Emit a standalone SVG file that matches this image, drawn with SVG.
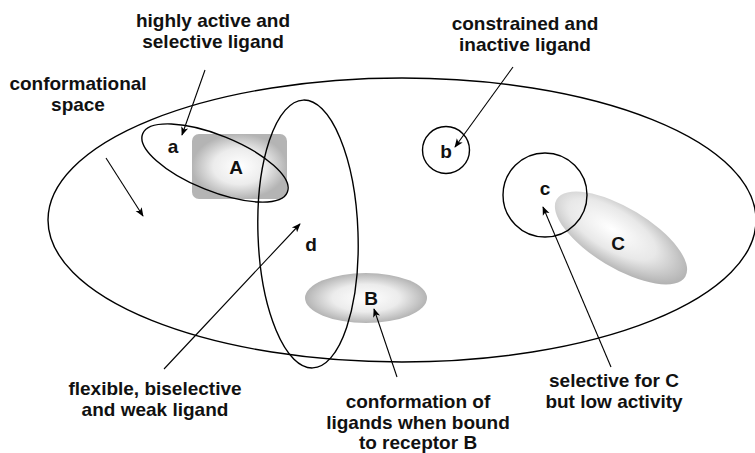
<svg xmlns="http://www.w3.org/2000/svg" width="755" height="453" viewBox="0 0 755 453">
<defs>
<radialGradient id="g" cx="0.5" cy="0.5" r="0.5">
<stop offset="0" stop-color="#ffffff"/>
<stop offset="0.55" stop-color="#ececec"/>
<stop offset="1" stop-color="#b4b4b4"/>
</radialGradient>
<radialGradient id="gC" cx="0.42" cy="0.45" r="0.6">
<stop offset="0" stop-color="#ffffff"/>
<stop offset="0.55" stop-color="#e8e8e8"/>
<stop offset="1" stop-color="#b0b0b0"/>
</radialGradient>
<marker id="ah" viewBox="0 0 10 10" refX="9" refY="5" markerWidth="9" markerHeight="9" orient="auto" markerUnits="userSpaceOnUse">
<path d="M0,1 L10,5 L0,9 L2.5,5 Z" fill="#000"/>
</marker>
<style>
.o{fill:none;stroke:#000;stroke-width:1.4}
.c{fill:none;stroke:#000;stroke-width:1.1;marker-end:url(#ah)}
text{font-family:"Liberation Sans",Arial,sans-serif;font-weight:bold;font-size:19px;fill:#111;text-anchor:middle}
.l{font-size:19px}
</style>
</defs>
<g id="space">
<ellipse class="o" cx="402" cy="220" rx="354" ry="142"/>
</g>
<g id="nodeA">
<rect x="192" y="134" width="95" height="65" rx="7" fill="url(#g)"/>
<text class="l" x="236" y="174">A</text>
</g>
<g id="nodeB">
<ellipse cx="366" cy="298" rx="61" ry="25" fill="url(#g)"/>
<text class="l" x="371" y="305">B</text>
</g>
<g id="nodeC">
<ellipse cx="621" cy="238" rx="75" ry="30" transform="rotate(31 621 238)" fill="url(#gC)"/>
<text class="l" x="618" y="250">C</text>
</g>
<g id="node-a">
<ellipse class="o" cx="215" cy="163" rx="78" ry="28" transform="rotate(22 215 163)"/>
<text class="l" x="173" y="153">a</text>
</g>
<g id="node-d">
<ellipse class="o" cx="308" cy="234" rx="50" ry="134" transform="rotate(-2 308 234)"/>
<text class="l" x="311" y="251">d</text>
</g>
<g id="node-b">
<circle class="o" cx="446" cy="150" r="23.5"/>
<text class="l" x="446" y="158">b</text>
</g>
<g id="node-c">
<circle class="o" cx="545" cy="195" r="42"/>
<text class="l" x="545" y="195">c</text>
</g>
<g id="labels">
<text x="213" y="27">highly active and</text>
<text x="213" y="48">selective ligand</text>
<text x="78" y="90">conformational</text>
<text x="78" y="111">space</text>
<text x="525" y="30">constrained and</text>
<text x="525" y="51">inactive ligand</text>
<text x="155" y="395">flexible, biselective</text>
<text x="155" y="416">and weak ligand</text>
<text x="418" y="408">conformation of</text>
<text x="418" y="429">ligands when bound</text>
<text x="418" y="449">to receptor B</text>
<text x="614" y="387">selective for C</text>
<text x="614" y="408">but low activity</text>
</g>
<g id="connectors">
<line class="c" x1="205" y1="70" x2="182" y2="135"/>
<line class="c" x1="106" y1="158" x2="143" y2="216"/>
<line class="c" x1="513" y1="67" x2="455" y2="147"/>
<line class="c" x1="164" y1="369" x2="300" y2="224"/>
<line class="c" x1="397" y1="377" x2="374" y2="309"/>
<line class="c" x1="611" y1="367" x2="543" y2="207"/>
</g>
</svg>
